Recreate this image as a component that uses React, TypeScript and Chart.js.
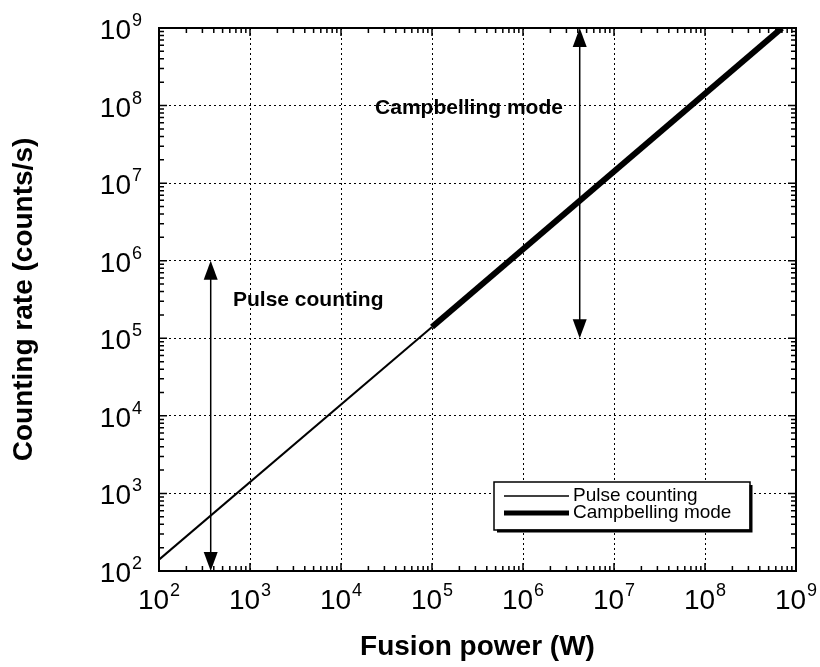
import React, { useEffect, useRef } from "react";
import { Chart, registerables } from "chart.js";

Chart.register(...registerables);

// ---- data ----
const pulseX = [1e2, 1e5];
const pulseY = [1.4e2, 1.4e5];
const campX = [1e5, 7e8];
const campY = [1.4e5, 1e9];
const seriesLabels = ["Pulse counting", "Campbelling mode"];

const xTickValues = [1e2, 1e3, 1e4, 1e5, 1e6, 1e7, 1e8, 1e9];
const yTickValues = [1e2, 1e3, 1e4, 1e5, 1e6, 1e7, 1e8, 1e9];
const xTickExponents = ["2", "3", "4", "5", "6", "7", "8", "9"];
const yTickExponents = ["2", "3", "4", "5", "6", "7", "8", "9"];

const xTitle = "Fusion power (W)";
const yTitle = "Counting rate (counts/s)";

// range arrows: x position, lower and upper value
const arrowX = [370, 4.2e6];
const arrowYLow = [1e2, 1e5];
const arrowYHigh = [1e6, 1e9];

// annotation texts
const noteText = ["Pulse counting", "Campbelling mode"];
const noteX = [650, 2.37e4];
const noteY = [3.1e5, 9.3e7];

const FONT = '"Liberation Sans", Arial, Helvetica, sans-serif';

const overlayPlugin = {
  id: "overlay",
  afterDatasetsDraw(chart: any) {
    const ctx = chart.ctx as CanvasRenderingContext2D;
    const area = chart.chartArea;
    const xs = chart.scales.x;
    const ys = chart.scales.y;
    ctx.save();

    // frame
    ctx.strokeStyle = "#000";
    ctx.lineWidth = 2;
    ctx.strokeRect(area.left, area.top, area.right - area.left, area.bottom - area.top);

    // ticks on all four sides
    ctx.lineWidth = 1.5;
    for (let d = 2; d < 9; d++) {
      for (let m = 1; m <= 9; m++) {
        const v = m * Math.pow(10, d);
        const px = xs.getPixelForValue(v);
        const len = m === 1 ? 8 : 5;
        ctx.beginPath();
        ctx.moveTo(px, area.bottom);
        ctx.lineTo(px, area.bottom - len);
        ctx.moveTo(px, area.top);
        ctx.lineTo(px, area.top + len);
        ctx.stroke();
      }
    }
    for (let d = 2; d < 9; d++) {
      for (let m = 1; m <= 9; m++) {
        const v = m * Math.pow(10, d);
        const py = ys.getPixelForValue(v);
        const len = m === 1 ? 8 : 5;
        ctx.beginPath();
        ctx.moveTo(area.left, py);
        ctx.lineTo(area.left + len, py);
        ctx.moveTo(area.right, py);
        ctx.lineTo(area.right - len, py);
        ctx.stroke();
      }
    }

    // tick labels with superscripts
    ctx.fillStyle = "#000";
    ctx.textBaseline = "alphabetic";
    ctx.textAlign = "left";
    const bigFont = `28px ${FONT}`;
    const supFont = `18px ${FONT}`;
    xTickValues.forEach((v, i) => {
      const px = xs.getPixelForValue(v);
      ctx.font = bigFont;
      const w1 = ctx.measureText("10").width;
      ctx.font = supFont;
      const w2 = ctx.measureText(xTickExponents[i]).width;
      const start = px - (w1 + w2 + 1) / 2;
      ctx.font = bigFont;
      ctx.fillText("10", start, area.bottom + 38);
      ctx.font = supFont;
      ctx.fillText(xTickExponents[i], start + w1 + 1, area.bottom + 25);
    });
    yTickValues.forEach((v, i) => {
      const py = ys.getPixelForValue(v);
      ctx.font = bigFont;
      const w1 = ctx.measureText("10").width;
      ctx.font = supFont;
      const w2 = ctx.measureText(yTickExponents[i]).width;
      const end = area.left - 17;
      const start = end - (w1 + w2 + 1);
      ctx.font = bigFont;
      ctx.fillText("10", start, py + 11);
      ctx.font = supFont;
      ctx.fillText(yTickExponents[i], start + w1 + 1, py - 2);
    });

    // range arrows
    ctx.lineWidth = 1.5;
    arrowX.forEach((xv, i) => {
      const px = xs.getPixelForValue(xv);
      const pLow = ys.getPixelForValue(arrowYLow[i]);
      const pHigh = ys.getPixelForValue(arrowYHigh[i]);
      const headL = 19, headW = 7;
      ctx.beginPath();
      ctx.moveTo(px, pHigh + headL - 2);
      ctx.lineTo(px, pLow - headL + 2);
      ctx.stroke();
      ctx.beginPath();
      ctx.moveTo(px, pHigh);
      ctx.lineTo(px - headW, pHigh + headL);
      ctx.lineTo(px + headW, pHigh + headL);
      ctx.closePath();
      ctx.fill();
      ctx.beginPath();
      ctx.moveTo(px, pLow);
      ctx.lineTo(px - headW, pLow - headL);
      ctx.lineTo(px + headW, pLow - headL);
      ctx.closePath();
      ctx.fill();
    });

    // annotation texts
    ctx.font = `bold 21px ${FONT}`;
    ctx.textBaseline = "middle";
    noteText.forEach((t, i) => {
      ctx.fillText(t, xs.getPixelForValue(noteX[i]), ys.getPixelForValue(noteY[i]));
    });

    // legend box
    const bx = 494, by = 482, bw = 256, bh = 48;
    ctx.fillStyle = "#fff";
    ctx.fillRect(bx, by, bw, bh);
    ctx.strokeStyle = "#000";
    ctx.lineWidth = 1.5;
    ctx.strokeRect(bx, by, bw, bh);
    ctx.lineWidth = 3;
    ctx.beginPath();
    ctx.moveTo(bx + bw + 1, by + 3);
    ctx.lineTo(bx + bw + 1, by + bh + 1);
    ctx.lineTo(bx + 3, by + bh + 1);
    ctx.stroke();
    ctx.fillStyle = "#000";
    ctx.font = `19px ${FONT}`;
    ctx.textBaseline = "middle";
    chart.data.datasets.forEach((ds: any, i: number) => {
      const ly = by + 14 + i * 17;
      ctx.lineWidth = ds.borderWidth >= 5 ? 5 : 1.5;
      ctx.beginPath();
      ctx.moveTo(bx + 10, ly);
      ctx.lineTo(bx + 75, ly);
      ctx.stroke();
      ctx.fillText(ds.label, bx + 79, ly);
    });

    ctx.restore();
  },
};

export default function App() {
  const ref = useRef<HTMLCanvasElement>(null);
  useEffect(() => {
    if (!ref.current) return;
    const chart = new Chart(ref.current, {
      type: "line",
      data: {
        datasets: [
          {
            label: seriesLabels[0],
            data: pulseX.map((x, i) => ({ x, y: pulseY[i] })),
            borderColor: "#000",
            borderWidth: 2,
            pointRadius: 0,
            fill: false,
          },
          {
            label: seriesLabels[1],
            data: campX.map((x, i) => ({ x, y: campY[i] })),
            borderColor: "#000",
            borderWidth: 6,
            pointRadius: 0,
            fill: false,
          },
        ],
      },
      options: {
        responsive: false,
        animation: false,
        layout: { padding: { top: 28, right: 24, left: 0, bottom: 0 } },
        plugins: { legend: { display: false }, tooltip: { enabled: false } },
        scales: {
          x: {
            type: "logarithmic",
            min: 1e2,
            max: 1e9,
            afterBuildTicks: (s: any) => {
              s.ticks = xTickValues.map((v) => ({ value: v }));
            },
            afterFit: (s: any) => {
              s.height = 96;
            },
            ticks: { display: false },
            grid: { color: "#000", lineWidth: 1, drawTicks: false },
            border: { display: false, dash: [2, 3] },
            title: {
              display: true,
              text: xTitle,
              color: "#000",
              font: { family: FONT, size: 28, weight: "bold" },
              padding: { top: 0, bottom: 3 },
            },
          },
          y: {
            type: "logarithmic",
            min: 1e2,
            max: 1e9,
            afterBuildTicks: (s: any) => {
              s.ticks = yTickValues.map((v) => ({ value: v }));
            },
            afterFit: (s: any) => {
              s.width = 159;
            },
            ticks: { display: false },
            grid: { color: "#000", lineWidth: 1, drawTicks: false },
            border: { display: false, dash: [2, 3] },
            title: {
              display: true,
              text: yTitle,
              color: "#000",
              font: { family: FONT, size: 28, weight: "bold" },
              padding: { top: 7, bottom: 0 },
            },
          },
        },
      },
      plugins: [overlayPlugin],
    } as any);
    return () => chart.destroy();
  }, []);
  return (
    <div style={{ position: "absolute", left: 0, top: 0, width: 820, height: 667, background: "#fff" }}>
      <canvas ref={ref} width={820} height={667} style={{ display: "block" }} />
    </div>
  );
}
